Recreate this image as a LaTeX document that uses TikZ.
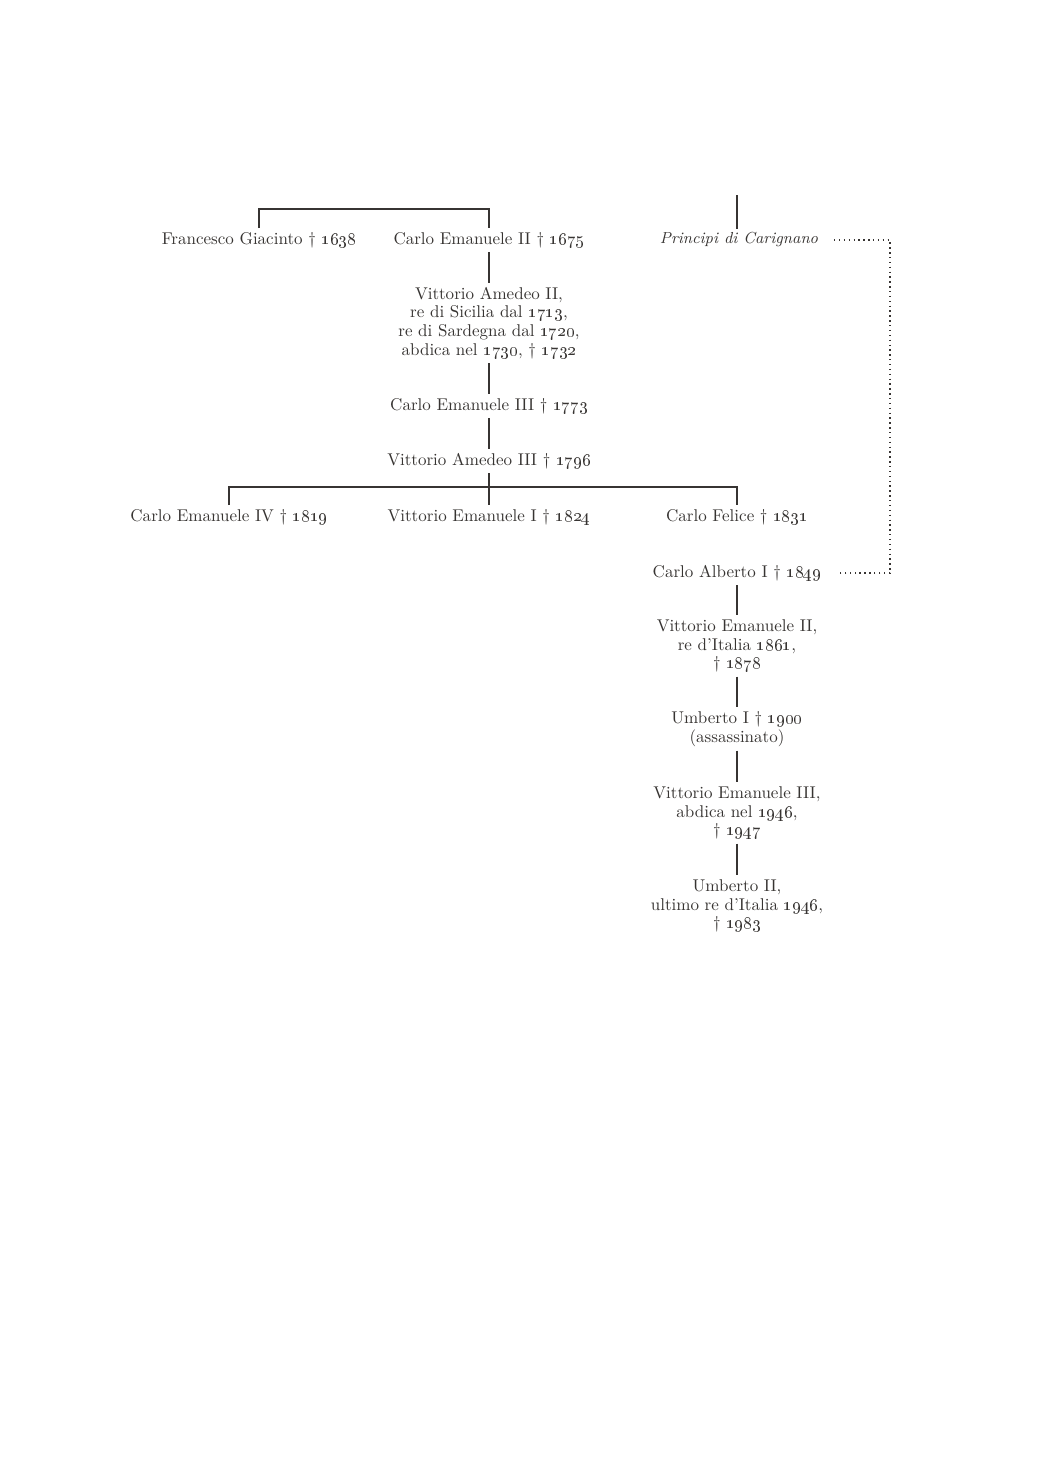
\documentclass[tikz,border=0pt]{standalone}
\usetikzlibrary{positioning}
\definecolor{ink}{RGB}{55,52,50}
\newcommand{\os}[1]{\oldstylenums{#1}}
\begin{document}
\begin{tikzpicture}[x=0.576pt,y=-0.576pt,
  person/.style={align=center,inner xsep=0pt,inner ysep=2.2pt,text=ink,font=\fontsize{9.8}{10.8}\selectfont},
  branch/.style={person,font=\fontsize{9.2}{10.8}\selectfont\itshape},
  link/.style={draw=ink,line width=0.75pt},
  dots/.style={draw=ink,line width=0.8pt,dotted}]
\useasboundingbox (0,0) rectangle (1046,1461);
\node[person] (fg) at (259,240) {Francesco Giacinto \textdagger\ \os{1638}};
\node[person] (ce2) at (489,240) {Carlo Emanuele II \textdagger\ \os{1675}};
\node[branch] (pc) at (739,240) {Principi di Carignano};
\coordinate (pctop) at (737,195);
\node[person] (va2) at (489,323) {Vittorio Amedeo II,\\re di Sicilia dal \os{1713},\\re di Sardegna dal \os{1720},\\abdica nel \os{1730}, \textdagger\ \os{1732}};
\node[person] (ce3) at (489,406) {Carlo Emanuele III \textdagger\ \os{1773}};
\node[person] (va3) at (489,461) {Vittorio Amedeo III \textdagger\ \os{1796}};
\node[person] (ce4) at (229,517) {Carlo Emanuele IV \textdagger\ \os{1819}};
\node[person] (ve1) at (489,517) {Vittorio Emanuele I \textdagger\ \os{1824}};
\node[person] (cf) at (737,517) {Carlo Felice \textdagger\ \os{1831}};
\node[person] (ca) at (737,573) {Carlo Alberto I \textdagger\ \os{1849}};
\node[person] (ve2) at (737,646) {Vittorio Emanuele II,\\re d'Italia \os{1861},\\\textdagger\ \os{1878}};
\node[person] (u1) at (737,729) {Umberto I \textdagger\ \os{1900}\\(assassinato)};
\node[person] (ve3) at (737,813) {Vittorio Emanuele III,\\abdica nel \os{1946},\\\textdagger\ \os{1947}};
\node[person] (u2) at (737,906) {Umberto II,\\ultimo re d'Italia \os{1946},\\\textdagger\ \os{1983}};
\coordinate (topbar) at (489,209);
\coordinate (midbar) at (489,487);
\coordinate (dne) at (890,240);
\coordinate (dse) at (890,573);
% connectors
\draw[link] (fg.north) |- (topbar) -- (ce2.north);
\draw[link] (pctop) -- (pctop |- pc.north);
\draw[link] (ce2.south) -- (va2.north);
\draw[link] (va2.south) -- (ce3.north);
\draw[link] (ce3.south) -- (va3.north);
\draw[link] (va3.south) -- (ve1.north);
\draw[link] (ce4.north) |- (midbar) -| (cf.north);
\draw[link] (ca.south) -- (ve2.north);
\draw[link] (ve2.south) -- (u1.north);
\draw[link] (u1.south) -- (ve3.north);
\draw[link] (ve3.south) -- (u2.north);
\draw[dots] ([xshift=9pt]pc.east) -- (dne) -- (dse) -- ([xshift=9pt]ca.east);
\end{tikzpicture}
\end{document}
